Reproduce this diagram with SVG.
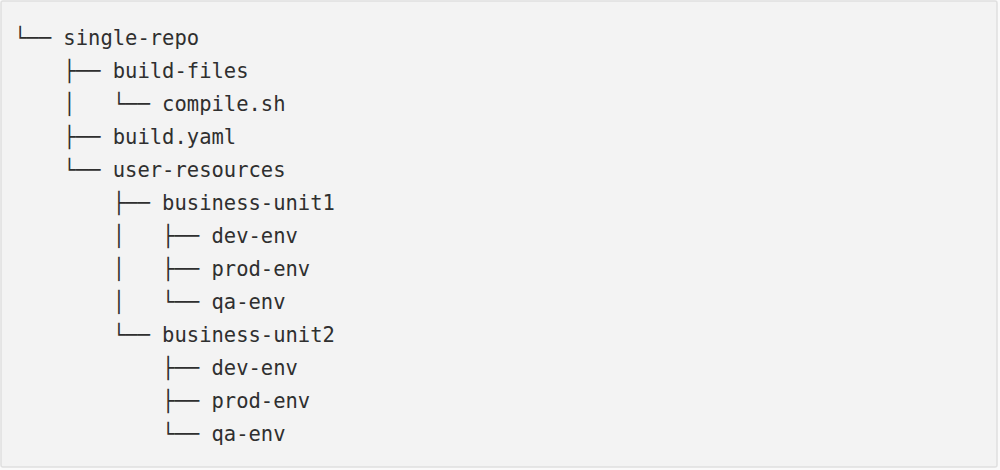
<svg xmlns="http://www.w3.org/2000/svg" width="1000" height="470" viewBox="0 0 1000 470">
<style>
.bg{fill:#f3f3f3;stroke:#e0e0e0;stroke-width:1.5}
text{font-family:"DejaVu Sans Mono","Liberation Mono",monospace;font-size:20.5px;fill:#2f2f2f;white-space:pre}
</style>
<rect x="0" y="0" width="1000" height="470" fill="#fafafa"/>
<rect class="bg" x="1" y="1" width="996" height="466" rx="2"/>
<g id="tree" xml:space="preserve">
<g id="n-single-repo"><text x="14" y="45">└── single-repo</text></g>
<g id="n-build-files"><text x="14" y="78">    ├── build-files</text></g>
<g id="n-compile"><text x="14" y="111">    │   └── compile.sh</text></g>
<g id="n-build-yaml"><text x="14" y="144">    ├── build.yaml</text></g>
<g id="n-user-resources"><text x="14" y="177">    └── user-resources</text></g>
<g id="n-bu1"><text x="14" y="210">        ├── business-unit1</text></g>
<g id="n-bu1-dev"><text x="14" y="243">        │   ├── dev-env</text></g>
<g id="n-bu1-prod"><text x="14" y="276">        │   ├── prod-env</text></g>
<g id="n-bu1-qa"><text x="14" y="309">        │   └── qa-env</text></g>
<g id="n-bu2"><text x="14" y="342">        └── business-unit2</text></g>
<g id="n-bu2-dev"><text x="14" y="375">            ├── dev-env</text></g>
<g id="n-bu2-prod"><text x="14" y="408">            ├── prod-env</text></g>
<g id="n-bu2-qa"><text x="14" y="441">            └── qa-env</text></g>
</g>
<g id="connectors"/>
</svg>
